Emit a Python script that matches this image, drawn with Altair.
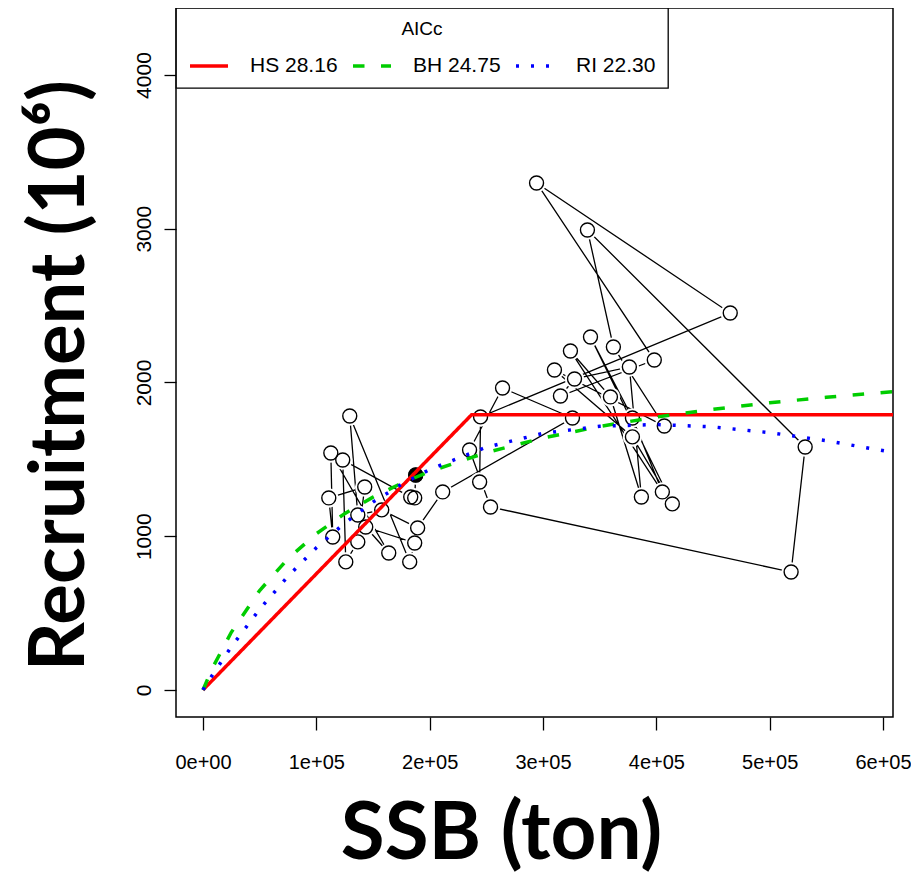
import altair as alt
import pandas as pd

# Observed stock-recruitment pairs, in time order
ssb = [244100, 244900, 465200, 294300, 398200, 315400, 327800, 376200, 386800, 359500,
       324200, 405300, 378900, 341900, 414100, 378900, 310100, 407000, 362100, 339200,
       531300, 518900, 253700, 235200, 264300, 326000, 211500, 189400, 157700, 136600,
       129500, 182400, 186800, 143600, 163900, 112800, 114500, 111000, 142700, 136600,
       126000, 123300, 183300, 186800, 187700]
rec = [1353, 1776, 2452, 3298, 2146, 1912, 2023, 2101, 1255, 1906,
       2205, 1288, 1769, 2296, 1210, 1646, 2081, 1717, 2231, 2992,
       1580, 767, 1190, 1561, 1964, 1769, 1288, 1054, 1171, 1138,
       1782, 833, 956, 1060, 891, 1541, 995, 1249, 1320, 963,
       833, 1496, 1255, 1249, 1398]

# Fitted curves
model_names = ["HS 28.16", "BH 24.75", "RI 22.30"]
model_colors = ["#FF0000", "#00CD00", "#0000FF"]
model_dashes = [[1, 0], [11.5, 16.5], [3, 12]]

hs_ssb = [0, 237000, 610000]
hs_rec = [0, 1790, 1790]

grid_ssb = [0, 5000, 10000, 25000, 50000, 75000, 100000, 125000, 150000, 175000, 200000,
            250000, 300000, 350000, 400000, 450000, 500000, 550000, 610000]
bh_rec = [0, 86, 166, 375, 647, 854, 1016, 1147, 1254, 1344, 1421,
          1544, 1639, 1714, 1775, 1825, 1868, 1904, 1941]
ri_rec = [0, 59, 116, 280, 525, 739, 925, 1085, 1222, 1337, 1434,
          1579, 1669, 1715, 1727, 1711, 1674, 1621, 1544]

x_ticks = [0, 100000, 200000, 300000, 400000, 500000, 600000]
y_ticks = [0, 1000, 2000, 3000, 4000]

obs = pd.DataFrame({"idx": list(range(1, len(ssb) + 1)), "ssb": ssb, "rec": rec})
last = obs.tail(1)

curves = pd.concat([
    pd.DataFrame({"model": model_names[0], "ssb": hs_ssb, "rec": hs_rec}),
    pd.DataFrame({"model": model_names[1], "ssb": grid_ssb, "rec": bh_rec}),
    pd.DataFrame({"model": model_names[2], "ssb": grid_ssb, "rec": ri_rec}),
])

x_scale = alt.Scale(domain=[-23800, 608800], nice=False, zero=False)
y_scale = alt.Scale(domain=[-176, 4436], nice=False, zero=False)

x_axis = alt.Axis(
    values=x_ticks, grid=False, domain=False, tickSize=13, tickWidth=1.3, tickColor="black",
    labelExpr="datum.value == 0 ? '0e+00' : format(datum.value / 100000, 'd') + 'e+05'",
    labelFont="Liberation Sans", labelFontSize=20, labelColor="black",
    labelBaseline="alphabetic", labelPadding=38, labelFlush=False, labelOverlap=False,
    title="SSB (ton)", titleFont="Lato", titleFontSize=80, titleFontWeight="bold",
    titleColor="black", titleX=325, titleY=141, titleBaseline="alphabetic", titleAlign="center",
    titleLimit=2000,
)
y_axis = alt.Axis(
    values=y_ticks, format="d", grid=False, domain=False, tickSize=12, tickWidth=1.3, tickColor="black",
    labelFont="Liberation Sans", labelFontSize=21, labelColor="black",
    labelAngle=270, labelAlign="center", labelBaseline="alphabetic", labelPadding=14,
    labelFlush=False, labelOverlap=False,
    title="Recruitment (10⁶)", titleFont="Lato", titleFontSize=76, titleFontWeight="bold",
    titleColor="black", titleX=-93, titleY=367, titleAngle=270,
    titleBaseline="alphabetic", titleAlign="center", titleLimit=2000,
)

X = alt.X("ssb:Q", scale=x_scale, axis=x_axis)
Y = alt.Y("rec:Q", scale=y_scale, axis=y_axis)

path = alt.Chart(obs).mark_line(color="black", strokeWidth=1.3).encode(
    x=X, y=Y, order=alt.Order("idx:Q"))
halo = alt.Chart(obs).mark_point(shape="circle", filled=True, color="white", size=380, opacity=1).encode(x=X, y=Y)
circles = alt.Chart(obs).mark_point(shape="circle", filled=False, color="black", size=195,
                                    strokeWidth=1.4, opacity=1).encode(x=X, y=Y)
latest = alt.Chart(last).mark_point(shape="circle", filled=True, color="black", size=230, opacity=1).encode(x=X, y=Y)

legend = alt.Legend(title="AICc")
curve_layer = alt.Chart(curves).mark_line(strokeWidth=3.5, clip=True, interpolate="linear").encode(
    x=X, y=Y,
    color=alt.Color("model:N", scale=alt.Scale(domain=model_names, range=model_colors), legend=legend),
    strokeDash=alt.StrokeDash("model:N", scale=alt.Scale(domain=model_names, range=model_dashes), legend=legend),
)

chart = alt.layer(path, halo, circles, latest, curve_layer).properties(
    width=717, height=709,
    autosize=alt.AutoSizeParams(type="none"),
    padding={"left": 168, "top": 0, "right": 18, "bottom": 158},
).configure_view(stroke="black", strokeWidth=1.5).configure_legend(
    orient="none", legendX=0, legendY=0, direction="horizontal",
    fillColor="white", strokeColor="black", strokeWidth=1.3, padding=12,
    titleAnchor="middle", titleFont="Liberation Sans", titleFontSize=19, titleFontWeight="normal",
    titleColor="black", titlePadding=6,
    labelFont="Liberation Sans", labelFontSize=21, labelColor="black", labelOffset=20,
    symbolType="stroke", symbolSize=1444, symbolStrokeWidth=3.5, columnPadding=8,
)

chart.save("out.html", embed_options={"renderer": "svg", "actions": False})
